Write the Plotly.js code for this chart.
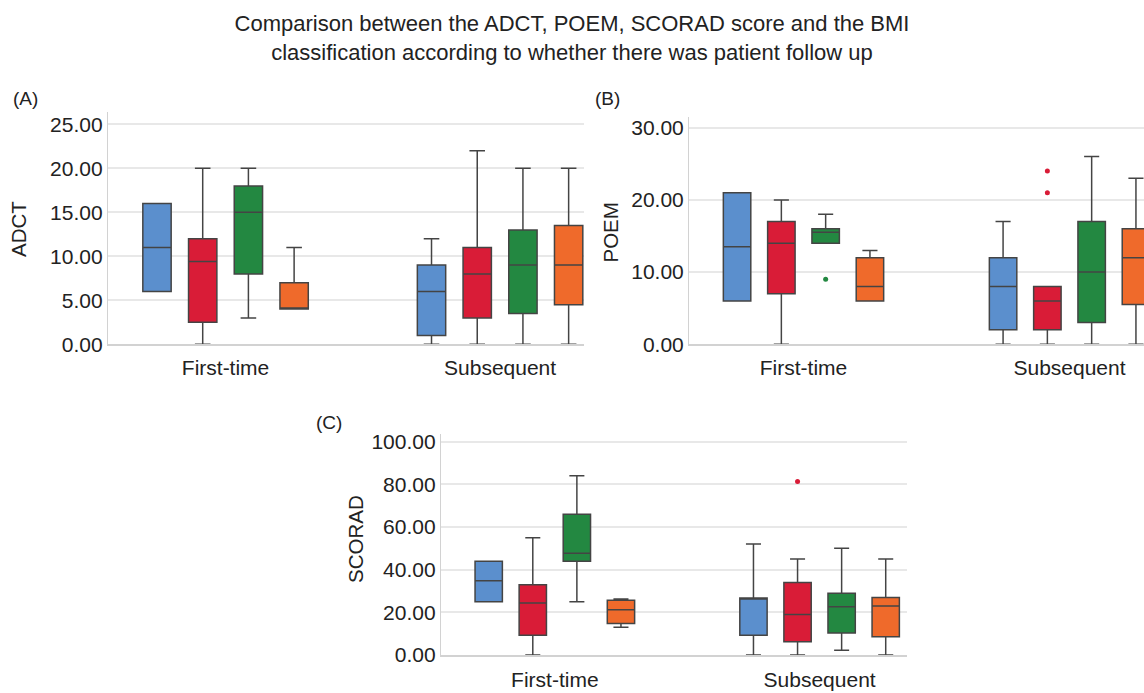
<!DOCTYPE html>
<html>
<head>
<meta charset="utf-8">
<script src="https://cdn.plot.ly/plotly-3.0.1.min.js"></script>
<style>html,body{margin:0;padding:0;background:#fff;}#chart{width:1144px;height:693px;}</style>
</head>
<body>
<div id="chart"></div>
<script>
// ---- data ----
const categories = ['First-time', 'Subsequent'];
const bmiClasses = ['Underweight', 'Normal', 'Overweight', 'Obese'];
const colors = ['#5b8fcd', '#d91c37', '#238841', '#ef6a2b'];

// (A) ADCT: per BMI class, [First-time, Subsequent]
const adctLower  = [[6, 0], [0, 0], [3, 0], [4, 0]];
const adctQ1     = [[6, 1], [2.5, 3], [8, 3.5], [4, 4.5]];
const adctMedian = [[11, 6], [9.4, 8], [15, 9], [4, 9]];
const adctQ3     = [[16, 9], [12, 11], [18, 13], [7, 13.5]];
const adctUpper  = [[16, 12], [20, 22], [20, 20], [11, 20]];
const adctOutliers = [[[], []], [[], []], [[], []], [[], []]];

// (B) POEM
const poemLower  = [[6, 0], [0, 0], [14, 0], [6, 0]];
const poemQ1     = [[6, 2], [7, 2], [14, 3], [6, 5.5]];
const poemMedian = [[13.5, 8], [14, 6], [15.5, 10], [8, 12]];
const poemQ3     = [[21, 12], [17, 8], [16, 17], [12, 16]];
const poemUpper  = [[21, 17], [20, 8], [18, 26], [13, 23]];
const poemOutliers = [[[], []], [[], [21, 24]], [[9], []], [[], []]];

// (C) SCORAD
const scoradLower  = [[25, 0], [0, 0], [25, 2.2], [13, 0]];
const scoradQ1     = [[25, 9.3], [9.3, 6.2], [44, 10.3], [14.8, 8.6]];
const scoradMedian = [[34.8, 26.3], [24.4, 19], [47.7, 22.6], [21.2, 23]];
const scoradQ3     = [[44, 26.7], [33, 34], [66, 29], [25.7, 27]];
const scoradUpper  = [[44, 52], [55, 45], [84, 50], [26.3, 45]];
const scoradOutliers = [[[], []], [[], [81.3]], [[], []], [[], []]];

const yTicksA = [0, 5, 10, 15, 20, 25];
const yTicksB = [0, 10, 20, 30];
const yTicksC = [0, 20, 40, 60, 80, 100];

// ---- build ----
const FONT = '"Liberation Sans", Arial, Helvetica, sans-serif';
const traces = [];
function addPanel(lower, q1, med, q3, upper, outl, xa, ya) {
  for (let i = 0; i < bmiClasses.length; i++) {
    const hasOut = outl[i].some(a => a.length > 0);
    const t = {
      type: 'box', name: bmiClasses[i], x: categories,
      lowerfence: lower[i], q1: q1[i], median: med[i], q3: q3[i], upperfence: upper[i],
      xaxis: xa, yaxis: ya, offsetgroup: 'g' + i,
      fillcolor: colors[i], line: {color: '#444444', width: 1.5},
      marker: {color: colors[i], size: 5, line: {width: 0}},
      whiskerwidth: 0.55, showlegend: false, boxpoints: false
    };
    if (hasOut) {
      // sample points: outliers; an empty slot gets its own median (never drawn as outlier)
      t.y = outl[i].map((a, j) => a.length ? a : [med[i][j]]);
      t.boxpoints = 'outliers'; t.jitter = 0; t.pointpos = 0;
    }
    traces.push(t);
  }
}
addPanel(adctLower, adctQ1, adctMedian, adctQ3, adctUpper, adctOutliers, 'x', 'y');
addPanel(poemLower, poemQ1, poemMedian, poemQ3, poemUpper, poemOutliers, 'x2', 'y2');
addPanel(scoradLower, scoradQ1, scoradMedian, scoradQ3, scoradUpper, scoradOutliers, 'x3', 'y3');

function xAxis(domain, range, anchor, standoff) {
  return {domain: domain, range: range, type: 'category', anchor: anchor,
    showline: true, linecolor: '#d2d2d2', linewidth: 1.5, showgrid: false, zeroline: false,
    ticks: '', ticklabelstandoff: standoff, tickfont: {size: 21, color: '#222'}, fixedrange: true};
}
function yAxis(domain, range, tickvals, anchor) {
  return {domain: domain, range: range, anchor: anchor, tickvals: tickvals,
    ticktext: tickvals.map(v => v.toFixed(2)),
    showline: true, linecolor: '#d2d2d2', linewidth: 1.5,
    showgrid: true, gridcolor: '#e8e8e8', gridwidth: 2, zeroline: false,
    ticks: '', tickfont: {size: 21, color: '#222'}, fixedrange: true};
}

function label(text, x, y, angle) {
  return {text: text, xref: 'paper', yref: 'paper', x: x / 1144, y: 1 - y / 693,
    xanchor: 'center', yanchor: 'middle', textangle: angle || 0, showarrow: false,
    font: {size: angle ? 20.5 : 19, color: '#222'}};
}

const layout = {
  width: 1144, height: 693,
  margin: {l: 0, r: 0, t: 0, b: 0},
  paper_bgcolor: '#fff', plot_bgcolor: '#fff',
  font: {family: FONT, color: '#222'},
  boxmode: 'group', boxgap: 0.334, boxgroupgap: 0.38,
  title: {
    text: 'Comparison between the ADCT, POEM, SCORAD score and the BMI<br>classification according to whether there was patient follow up',
    x: 0.5, xanchor: 'center', xref: 'paper',
    y: 1 - 31 / 693, yref: 'container', yanchor: 'top',
    font: {size: 22, color: '#222', family: FONT}
  },
  xaxis: xAxis([0.0947, 0.5108], [-0.427, 1.307], 'y', 4),
  yaxis: yAxis([0.5032, 0.8388], [0, 26.43], yTicksA, 'x'),
  xaxis2: xAxis([0.6027, 1], [-0.4286, 1.28], 'y2', 4),
  yaxis2: yAxis([0.5032, 0.8316], [0, 31.52], yTicksB, 'x2'),
  xaxis3: xAxis([0.3858, 0.7928], [-0.4286, 1.33], 'y3', 5),
  yaxis3: yAxis([0.0548, 0.3733], [0, 103.47], yTicksC, 'x3'),
  annotations: [
    label('(A)', 25, 98.5),
    label('(B)', 607.5, 98),
    label('(C)', 328.5, 422.5),
    label('ADCT', 18, 229, -90),
    label('POEM', 610.5, 233, -90),
    label('SCORAD', 355, 539, -90)
  ]
};

Plotly.newPlot('chart', traces, layout, {staticPlot: true, displayModeBar: false});
</script>
</body>
</html>
